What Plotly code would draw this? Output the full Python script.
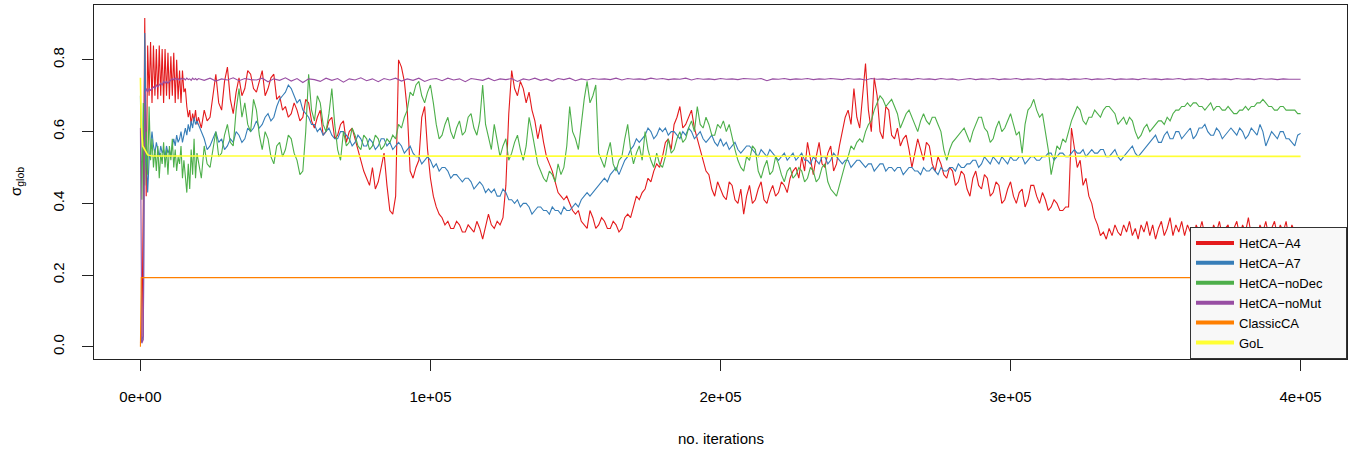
import numpy as np
import plotly.graph_objects as go

# iteration grids: fine steps during the initial transient, coarser afterwards
iter_early = np.arange(0, 20000, 500)
iter_fine = np.concatenate([iter_early, np.arange(20000, 400001, 1000)])
iter_coarse = np.concatenate([iter_early, np.arange(20000, 400001, 2000)])

hetca_a4 = [
    # 0 - 19500 (step 500)
    0.01, 0.02, 0.41, 0.917, 0.42, 0.84, 0.70, 0.85, 0.68, 0.84,
    0.70, 0.83, 0.69, 0.84, 0.70, 0.83, 0.68, 0.83, 0.70, 0.82,
    0.69, 0.81, 0.70, 0.82, 0.68, 0.80, 0.69, 0.77, 0.68, 0.77,
    0.71, 0.72, 0.67, 0.64, 0.66, 0.62, 0.65, 0.63, 0.66, 0.62,
    # 20000 - 400000 (step 1000)
    0.64, 0.61, 0.66, 0.63, 0.64, 0.70, 0.76, 0.68, 0.66, 0.74, 0.78, 0.69, 0.65, 0.71, 0.75, 0.70, 0.72, 0.77, 0.76, 0.72,
    0.71, 0.74, 0.77, 0.70, 0.72, 0.75, 0.76, 0.69, 0.70, 0.66, 0.67, 0.64, 0.65, 0.68, 0.66, 0.63, 0.64, 0.69, 0.68, 0.63,
    0.61, 0.64, 0.66, 0.59, 0.60, 0.63, 0.64, 0.58, 0.59, 0.62, 0.63, 0.57, 0.60, 0.61, 0.58, 0.55, 0.52, 0.49, 0.47, 0.45,
    0.50, 0.44, 0.46, 0.50, 0.54, 0.45, 0.38, 0.37, 0.42, 0.80, 0.78, 0.74, 0.66, 0.49, 0.47, 0.50, 0.52, 0.64, 0.67, 0.55,
    0.47, 0.42, 0.39, 0.37, 0.36, 0.34, 0.35, 0.33, 0.33, 0.35, 0.34, 0.32, 0.32, 0.34, 0.33, 0.32, 0.35, 0.33, 0.30, 0.34,
    0.37, 0.34, 0.33, 0.35, 0.34, 0.36, 0.45, 0.65, 0.77, 0.72, 0.70, 0.74, 0.72, 0.68, 0.71, 0.66, 0.63, 0.58, 0.62, 0.57,
    0.53, 0.51, 0.49, 0.46, 0.43, 0.42, 0.41, 0.42, 0.40, 0.38, 0.37, 0.38, 0.35, 0.34, 0.33, 0.38, 0.36, 0.33, 0.34, 0.36,
    0.35, 0.33, 0.33, 0.35, 0.34, 0.32, 0.33, 0.36, 0.37, 0.36, 0.39, 0.42, 0.41, 0.43, 0.44, 0.47, 0.46, 0.49, 0.51, 0.50,
    0.53, 0.57, 0.58, 0.55, 0.62, 0.64, 0.67, 0.61, 0.62, 0.64, 0.66, 0.61, 0.58, 0.55, 0.52, 0.49, 0.48, 0.44, 0.42, 0.46,
    0.44, 0.42, 0.41, 0.46, 0.45, 0.41, 0.40, 0.44, 0.37, 0.42, 0.45, 0.40, 0.41, 0.44, 0.46, 0.41, 0.40, 0.43, 0.45, 0.42,
    0.43, 0.46, 0.45, 0.43, 0.47, 0.49, 0.50, 0.47, 0.53, 0.49, 0.57, 0.52, 0.48, 0.53, 0.57, 0.51, 0.50, 0.54, 0.56, 0.49,
    0.51, 0.56, 0.60, 0.64, 0.66, 0.62, 0.72, 0.64, 0.61, 0.70, 0.79, 0.66, 0.60, 0.75, 0.70, 0.60, 0.58, 0.67, 0.66, 0.59,
    0.58, 0.61, 0.56, 0.58, 0.59, 0.55, 0.50, 0.54, 0.58, 0.55, 0.52, 0.57, 0.56, 0.51, 0.49, 0.53, 0.51, 0.48, 0.47, 0.50,
    0.49, 0.45, 0.46, 0.49, 0.48, 0.44, 0.42, 0.47, 0.49, 0.45, 0.44, 0.48, 0.47, 0.42, 0.43, 0.46, 0.45, 0.40, 0.41, 0.44,
    0.46, 0.42, 0.40, 0.43, 0.44, 0.39, 0.41, 0.45, 0.45, 0.42, 0.40, 0.43, 0.41, 0.38, 0.39, 0.41, 0.40, 0.38, 0.38, 0.39,
    0.39, 0.61, 0.55, 0.50, 0.52, 0.45, 0.47, 0.42, 0.40, 0.36, 0.34, 0.31, 0.32, 0.30, 0.33, 0.31, 0.34, 0.32, 0.31, 0.34,
    0.32, 0.35, 0.31, 0.33, 0.30, 0.34, 0.32, 0.35, 0.31, 0.34, 0.30, 0.33, 0.35, 0.31, 0.33, 0.36, 0.31, 0.34, 0.32, 0.35,
    0.31, 0.34, 0.32, 0.30, 0.34, 0.32, 0.35, 0.31, 0.33, 0.30, 0.34, 0.32, 0.35, 0.31, 0.33, 0.34, 0.30, 0.33, 0.35, 0.31,
    0.34, 0.32, 0.36, 0.31, 0.33, 0.30, 0.34, 0.32, 0.35, 0.31, 0.33, 0.35, 0.31, 0.34, 0.32, 0.35, 0.30, 0.34, 0.32, 0.31,
    0.33,
]

hetca_a7 = [
    0.01, 0.02, 0.03, 0.875, 0.55, 0.43, 0.52, 0.56, 0.60, 0.56,
    0.54, 0.57, 0.55, 0.53, 0.56, 0.54, 0.55, 0.53, 0.56, 0.54,
    0.55, 0.53, 0.56, 0.58, 0.56, 0.59, 0.57, 0.58, 0.60, 0.57,
    0.59, 0.61, 0.59, 0.62, 0.60, 0.63, 0.61, 0.64, 0.62, 0.63,
    0.62, 0.60, 0.58, 0.55, 0.56, 0.58, 0.60, 0.57, 0.58, 0.55, 0.56, 0.58, 0.57, 0.60, 0.59, 0.57, 0.58, 0.61, 0.60, 0.61,
    0.63, 0.61, 0.62, 0.64, 0.65, 0.63, 0.64, 0.67, 0.69, 0.70, 0.71, 0.73, 0.72, 0.70, 0.68, 0.69, 0.66, 0.65, 0.64, 0.62,
    0.62, 0.60, 0.61, 0.59, 0.60, 0.61, 0.59, 0.58, 0.58, 0.60, 0.60, 0.59, 0.58, 0.56, 0.57, 0.59, 0.58, 0.56, 0.56, 0.58,
    0.57, 0.55, 0.56, 0.58, 0.58, 0.56, 0.57, 0.55, 0.56, 0.57, 0.56, 0.54, 0.55, 0.56, 0.54, 0.53, 0.53, 0.51, 0.52, 0.53,
    0.52, 0.50, 0.51, 0.49, 0.50, 0.50, 0.49, 0.47, 0.48, 0.48, 0.47, 0.46, 0.47, 0.47, 0.46, 0.44, 0.45, 0.46, 0.45, 0.43,
    0.44, 0.43, 0.44, 0.42, 0.42, 0.44, 0.43, 0.41, 0.41, 0.40, 0.41, 0.39, 0.40, 0.40, 0.39, 0.37, 0.38, 0.39, 0.39, 0.38,
    0.38, 0.37, 0.39, 0.38, 0.38, 0.37, 0.39, 0.38, 0.38, 0.39, 0.40, 0.39, 0.41, 0.42, 0.43, 0.42, 0.43, 0.44, 0.45, 0.46,
    0.47, 0.46, 0.48, 0.49, 0.50, 0.48, 0.50, 0.52, 0.53, 0.55, 0.56, 0.58, 0.57, 0.58, 0.59, 0.61, 0.60, 0.58, 0.59, 0.61,
    0.60, 0.61, 0.59, 0.60, 0.60, 0.59, 0.58, 0.60, 0.59, 0.61, 0.60, 0.58, 0.59, 0.60, 0.58, 0.57, 0.58, 0.59, 0.57, 0.56,
    0.58, 0.56, 0.57, 0.55, 0.56, 0.57, 0.55, 0.54, 0.55, 0.56, 0.56, 0.55, 0.54, 0.53, 0.55, 0.54, 0.53, 0.55, 0.54, 0.53,
    0.52, 0.53, 0.54, 0.52, 0.53, 0.54, 0.52, 0.53, 0.54, 0.52, 0.52, 0.51, 0.53, 0.52, 0.51, 0.53, 0.53, 0.51, 0.52, 0.54,
    0.53, 0.52, 0.51, 0.52, 0.52, 0.50, 0.51, 0.52, 0.52, 0.51, 0.50, 0.51, 0.51, 0.49, 0.50, 0.51, 0.51, 0.49, 0.50, 0.50,
    0.49, 0.50, 0.50, 0.48, 0.49, 0.50, 0.50, 0.49, 0.49, 0.48, 0.50, 0.49, 0.49, 0.50, 0.49, 0.48, 0.50, 0.49, 0.49, 0.50,
    0.50, 0.49, 0.51, 0.50, 0.50, 0.51, 0.51, 0.52, 0.52, 0.50, 0.51, 0.53, 0.52, 0.51, 0.53, 0.52, 0.51, 0.53, 0.52, 0.51,
    0.53, 0.52, 0.52, 0.53, 0.53, 0.51, 0.52, 0.53, 0.53, 0.52, 0.52, 0.53, 0.53, 0.54, 0.54, 0.52, 0.53, 0.54, 0.54, 0.53,
    0.53, 0.54, 0.55, 0.54, 0.54, 0.55, 0.53, 0.54, 0.55, 0.54, 0.54, 0.55, 0.55, 0.53, 0.53, 0.54, 0.55, 0.53, 0.52, 0.53,
    0.54, 0.55, 0.56, 0.54, 0.53, 0.54, 0.55, 0.56, 0.57, 0.58, 0.59, 0.57, 0.57, 0.59, 0.60, 0.58, 0.58, 0.60, 0.60, 0.58,
    0.59, 0.60, 0.61, 0.58, 0.59, 0.61, 0.61, 0.62, 0.60, 0.59, 0.59, 0.61, 0.60, 0.58, 0.59, 0.60, 0.61, 0.60, 0.59, 0.61,
    0.60, 0.58, 0.59, 0.61, 0.60, 0.59, 0.62, 0.60, 0.56, 0.58, 0.60, 0.59, 0.58, 0.60, 0.60, 0.58, 0.58, 0.57, 0.56, 0.59,
    0.595,
]

hetca_nodec = [
    0.70, 0.41, 0.68, 0.45, 0.60, 0.48, 0.67, 0.52, 0.58, 0.50,
    0.55, 0.49, 0.56, 0.47, 0.54, 0.51, 0.57, 0.50, 0.55, 0.48,
    0.56, 0.52, 0.58, 0.50, 0.55, 0.49, 0.53, 0.51, 0.56, 0.47,
    0.52, 0.46, 0.43, 0.51, 0.44, 0.55, 0.48, 0.58, 0.47, 0.54,
    0.52, 0.47, 0.56, 0.51, 0.50, 0.55, 0.60, 0.53, 0.54, 0.59, 0.62, 0.57, 0.56, 0.66, 0.72, 0.64, 0.68, 0.62, 0.60, 0.69,
    0.66, 0.59, 0.55, 0.60, 0.58, 0.53, 0.51, 0.56, 0.57, 0.53, 0.55, 0.59, 0.58, 0.54, 0.52, 0.48, 0.49, 0.60, 0.76, 0.66,
    0.63, 0.70, 0.68, 0.62, 0.60, 0.65, 0.72, 0.62, 0.55, 0.52, 0.60, 0.56, 0.57, 0.61, 0.59, 0.56, 0.55, 0.59, 0.58, 0.55,
    0.56, 0.59, 0.58, 0.55, 0.56, 0.58, 0.57, 0.59, 0.58, 0.62, 0.61, 0.64, 0.66, 0.71, 0.70, 0.73, 0.74, 0.70, 0.68, 0.71,
    0.73, 0.68, 0.62, 0.58, 0.59, 0.62, 0.64, 0.60, 0.58, 0.61, 0.63, 0.59, 0.60, 0.64, 0.65, 0.61, 0.59, 0.63, 0.73, 0.62,
    0.58, 0.55, 0.62, 0.57, 0.53, 0.56, 0.58, 0.52, 0.54, 0.57, 0.59, 0.55, 0.52, 0.56, 0.64, 0.60, 0.56, 0.51, 0.49, 0.47,
    0.46, 0.49, 0.48, 0.46, 0.51, 0.48, 0.50, 0.56, 0.67, 0.60, 0.58, 0.55, 0.62, 0.69, 0.74, 0.68, 0.70, 0.73, 0.54, 0.52,
    0.50, 0.54, 0.57, 0.51, 0.49, 0.52, 0.53, 0.58, 0.62, 0.55, 0.51, 0.54, 0.56, 0.52, 0.60, 0.55, 0.52, 0.50, 0.54, 0.51,
    0.50, 0.53, 0.58, 0.54, 0.55, 0.58, 0.60, 0.57, 0.58, 0.61, 0.63, 0.60, 0.67, 0.62, 0.61, 0.64, 0.62, 0.59, 0.59, 0.62,
    0.61, 0.63, 0.60, 0.62, 0.58, 0.55, 0.52, 0.50, 0.49, 0.53, 0.52, 0.56, 0.55, 0.49, 0.47, 0.50, 0.52, 0.48, 0.49, 0.53,
    0.51, 0.48, 0.46, 0.49, 0.50, 0.47, 0.48, 0.50, 0.49, 0.46, 0.47, 0.50, 0.49, 0.46, 0.47, 0.50, 0.51, 0.46, 0.44, 0.43,
    0.42, 0.45, 0.48, 0.51, 0.53, 0.56, 0.55, 0.57, 0.58, 0.57, 0.60, 0.62, 0.63, 0.66, 0.68, 0.70, 0.69, 0.67, 0.68, 0.69,
    0.67, 0.65, 0.61, 0.63, 0.65, 0.66, 0.64, 0.62, 0.60, 0.63, 0.65, 0.63, 0.62, 0.64, 0.64, 0.62, 0.60, 0.55, 0.52, 0.55,
    0.57, 0.58, 0.59, 0.60, 0.61, 0.59, 0.57, 0.60, 0.62, 0.64, 0.64, 0.61, 0.60, 0.57, 0.58, 0.61, 0.63, 0.60, 0.61, 0.63,
    0.65, 0.62, 0.59, 0.60, 0.54, 0.62, 0.66, 0.67, 0.69, 0.66, 0.64, 0.65, 0.60, 0.55, 0.48, 0.52, 0.56, 0.55, 0.58, 0.57,
    0.60, 0.63, 0.65, 0.67, 0.66, 0.63, 0.62, 0.64, 0.64, 0.66, 0.65, 0.64, 0.66, 0.67, 0.67, 0.66, 0.65, 0.62, 0.63, 0.64,
    0.62, 0.64, 0.63, 0.60, 0.58, 0.59, 0.61, 0.62, 0.60, 0.61, 0.62, 0.63, 0.63, 0.62, 0.64, 0.63, 0.65, 0.66, 0.66, 0.67,
    0.67, 0.68, 0.67, 0.68, 0.68, 0.67, 0.67, 0.66, 0.67, 0.68, 0.66, 0.67, 0.67, 0.66, 0.66, 0.67, 0.66, 0.65, 0.65, 0.66,
    0.66, 0.67, 0.66, 0.67, 0.67, 0.68, 0.68, 0.69, 0.68, 0.67, 0.67, 0.66, 0.66, 0.67, 0.67, 0.66, 0.66, 0.66, 0.66, 0.65,
    0.65,
]

hetca_nomut = [
    0.61, 0.01, 0.02, 0.70, 0.72, 0.71, 0.72, 0.715, 0.72, 0.725,
    0.72, 0.73, 0.725, 0.73, 0.735, 0.73, 0.74, 0.735, 0.74, 0.735,
    0.74, 0.745, 0.748, 0.744, 0.749, 0.745, 0.748, 0.743, 0.749, 0.746,
    0.748, 0.744, 0.749, 0.745, 0.747, 0.743, 0.749, 0.745, 0.748, 0.744,
    0.748, 0.743, 0.749, 0.741, 0.747, 0.744, 0.750, 0.742, 0.748, 0.745,
    0.744, 0.749, 0.739, 0.747, 0.743, 0.750, 0.741, 0.748, 0.737, 0.747,
    0.745, 0.740, 0.749, 0.743, 0.748, 0.738, 0.747, 0.744, 0.750, 0.742,
    0.747, 0.739, 0.748, 0.744, 0.749, 0.741, 0.747, 0.743, 0.749, 0.740,
    0.746, 0.748, 0.742, 0.749, 0.744, 0.747, 0.739, 0.748, 0.745, 0.743,
    0.749, 0.742, 0.747, 0.745, 0.748, 0.740, 0.747, 0.744, 0.749, 0.743,
    0.747, 0.741, 0.748, 0.745, 0.749, 0.742, 0.747, 0.744, 0.748, 0.746,
    0.747, 0.745, 0.749, 0.744, 0.748, 0.746, 0.747, 0.745, 0.749, 0.746,
    0.748, 0.745, 0.747, 0.746, 0.749, 0.744, 0.748, 0.746, 0.747, 0.745,
    0.748, 0.746, 0.747, 0.745, 0.748, 0.747, 0.746, 0.748, 0.742, 0.747,
    0.746, 0.748, 0.745, 0.747, 0.746, 0.748, 0.745, 0.747, 0.746, 0.748,
    0.747, 0.745, 0.748, 0.746, 0.747, 0.744, 0.748, 0.746, 0.747, 0.745,
    0.748, 0.746, 0.747, 0.745, 0.748, 0.746, 0.747, 0.745, 0.748, 0.746,
    0.747, 0.744, 0.746, 0.748, 0.745, 0.747, 0.746, 0.748, 0.745, 0.747,
    0.746, 0.748, 0.745, 0.747, 0.746, 0.748, 0.745, 0.747, 0.746, 0.747,
    0.745, 0.747, 0.746, 0.748, 0.745, 0.747, 0.746, 0.748, 0.745, 0.747,
    0.746, 0.747, 0.745, 0.748, 0.746, 0.747, 0.745, 0.747, 0.746, 0.748,
    0.745, 0.747, 0.746, 0.748, 0.745, 0.747, 0.746, 0.747, 0.745, 0.748,
    0.746, 0.747, 0.745, 0.748, 0.746, 0.747, 0.745, 0.747, 0.746, 0.747,
    0.746,
]

# the two classic automata settle almost immediately
classic_iter = [0, 300, 400000]
classic_ca = [0.0, 0.193, 0.193]
gol_iter = [0, 300, 800, 1500, 2500, 4000, 400000]
gol = [0.75, 0.62, 0.56, 0.55, 0.535, 0.532, 0.531]

for s in (hetca_a4, hetca_a7, hetca_nodec):
    assert len(s) == len(iter_fine), len(s)
assert len(hetca_nomut) == len(iter_coarse), len(hetca_nomut)

names = ["HetCA\u2212A4", "HetCA\u2212A7", "HetCA\u2212noDec",
         "HetCA\u2212noMut", "ClassicCA", "GoL"]
colors = ["#E41A1C", "#377EB8", "#4DAF4A", "#984EA3", "#FF7F00", "#FFFF33"]
series = [
    (iter_fine, hetca_a4),
    (iter_fine, hetca_a7),
    (iter_fine, hetca_nodec),
    (iter_coarse, hetca_nomut),
    (classic_iter, classic_ca),
    (gol_iter, gol),
]

x_ticks = [0, 100000, 200000, 300000, 400000]
x_tick_text = ["0e+00", "1e+05", "2e+05", "3e+05", "4e+05"]
y_ticks = [0.0, 0.2, 0.4, 0.6, 0.8]
y_tick_text = ["0.0", "0.2", "0.4", "0.6", "0.8"]

FONT = "Liberation Sans, Arial, Helvetica, sans-serif"
PAD = "\u00a0" * 5

fig = go.Figure()
for (xs, ys), name, col in zip(series, names, colors):
    fig.add_trace(go.Scatter(
        x=xs, y=ys, mode="lines", name=name, showlegend=False,
        line=dict(color=col, width=1.6 if name == "GoL" else 1.1),
        hoverinfo="skip",
    ))
# legend entries drawn with thick keys
for name, col in zip(names, colors):
    fig.add_trace(go.Scatter(
        x=[None], y=[None], mode="lines", name=name + PAD,
        line=dict(color=col, width=4), showlegend=True,
    ))

axis_common = dict(
    showgrid=False, zeroline=False, showline=True, mirror=True,
    linecolor="#222", linewidth=1, ticks="outside", ticklen=11,
    tickwidth=1, tickcolor="#222",
    tickfont=dict(family=FONT, size=15, color="black"),
)

fig.update_layout(
    width=1355, height=452,
    margin=dict(l=94, r=8, t=5, b=93),
    paper_bgcolor="white", plot_bgcolor="white",
    font=dict(family=FONT, size=15, color="black"),
    xaxis=dict(range=[-16000, 416000], tickvals=x_ticks, ticktext=x_tick_text,
               ticklabelstandoff=13, **axis_common),
    yaxis=dict(range=[-0.034, 0.953], tickvals=y_ticks, ticktext=y_tick_text,
               tickangle=-90, ticklabelstandoff=12, **axis_common),
    legend=dict(
        x=1, y=0, xanchor="right", yanchor="bottom",
        bgcolor="#f8f8f8", bordercolor="#333", borderwidth=1,
        font=dict(family=FONT, size=13, color="black"),
        itemwidth=38, tracegroupgap=0,
    ),
    annotations=[
        dict(text="no. iterations", xref="paper", yref="paper", x=0.5, y=0,
             yshift=-79, showarrow=False, xanchor="center", yanchor="middle",
             font=dict(family=FONT, size=15, color="black")),
        dict(text="\u03c3<sub>glob</sub>", xref="paper", yref="paper", x=0, y=0.5,
             xshift=-78, showarrow=False, xanchor="center", yanchor="middle",
             textangle=-90, font=dict(family=FONT, size=15, color="black")),
    ],
)

fig.write_html("out.html")
